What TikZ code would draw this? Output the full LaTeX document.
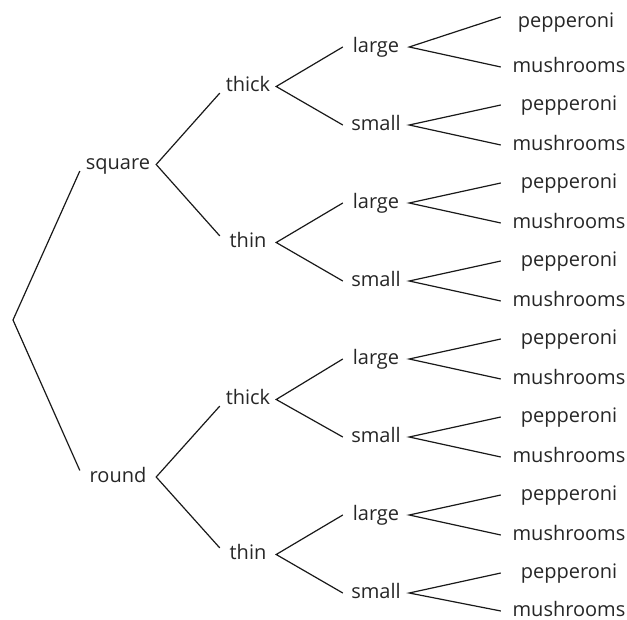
\documentclass[tikz,border=0pt]{standalone}
\usepackage{fontspec}
\setmainfont{Open Sans}

\begin{document}
\begin{tikzpicture}[x=1pt, y=-1pt,
  lbl/.style={inner xsep=0pt, inner ysep=1pt, text height=10.7pt, text depth=0pt, text=black!85, font=\fontsize{20}{24}\selectfont},
  shapebox/.style={lbl, minimum width=76pt},
  crustbox/.style={lbl, minimum width=56pt},
  sizebox/.style={lbl, minimum width=66pt},
  toppingbox/.style={lbl, minimum width=136pt},
  branch/.style={draw=black!90, line width=1.2pt}]
\useasboundingbox (0, 0) rectangle (627, 620);

\coordinate (root) at (13, 320);
\node[shapebox] (s) at (118, 164.5) {square};
\node[shapebox] (r) at (118, 477) {round};

\node[crustbox] (s1) at (248, 86.5) {thick};
\node[crustbox] (s2) at (248, 242.5) {thin};
\node[crustbox] (r1) at (248, 399.5) {thick};
\node[crustbox] (r2) at (248, 554.5) {thin};

\node[sizebox] (s1l) at (376, 47) {large};
\node[sizebox] (s1s) at (376, 125) {small};
\node[sizebox] (s2l) at (376, 203) {large};
\node[sizebox] (s2s) at (376, 281) {small};
\node[sizebox] (r1l) at (376, 359) {large};
\node[sizebox] (r1s) at (376, 437) {small};
\node[sizebox] (r2l) at (376, 515) {large};
\node[sizebox] (r2s) at (376, 593) {small};

\node[toppingbox] (s1l-p) at (566, 22) {pepperoni};
\node[toppingbox] (s1l-m) at (569, 67) {mushrooms};
\node[toppingbox] (s1s-p) at (569, 105) {pepperoni};
\node[toppingbox] (s1s-m) at (569, 145) {mushrooms};
\node[toppingbox] (s2l-p) at (569, 183) {pepperoni};
\node[toppingbox] (s2l-m) at (569, 223) {mushrooms};
\node[toppingbox] (s2s-p) at (569, 261) {pepperoni};
\node[toppingbox] (s2s-m) at (569, 301) {mushrooms};
\node[toppingbox] (r1l-p) at (569, 339) {pepperoni};
\node[toppingbox] (r1l-m) at (569, 379) {mushrooms};
\node[toppingbox] (r1s-p) at (569, 417) {pepperoni};
\node[toppingbox] (r1s-m) at (569, 457) {mushrooms};
\node[toppingbox] (r2l-p) at (569, 495) {pepperoni};
\node[toppingbox] (r2l-m) at (569, 535) {mushrooms};
\node[toppingbox] (r2s-p) at (569, 573) {pepperoni};
\node[toppingbox] (r2s-m) at (569, 611) {mushrooms};

\draw[branch] (s.south west) -- (root) -- (r.north west);

\draw[branch] (s1.south west) -- (s.east) -- (s2.north west);
\draw[branch] (r1.south west) -- (r.east) -- (r2.north west);

\draw[branch] (s1l.west) -- (s1.east) -- (s1s.west);
\draw[branch] (s2l.west) -- (s2.east) -- (s2s.west);
\draw[branch] (r1l.west) -- (r1.east) -- (r1s.west);
\draw[branch] (r2l.west) -- (r2.east) -- (r2s.west);

\draw[branch] ([xshift=3pt, yshift=5pt]s1l-p.west) -- (s1l.east) -- (s1l-m.west);
\draw[branch] (s1s-p.west) -- (s1s.east) -- (s1s-m.west);
\draw[branch] (s2l-p.west) -- (s2l.east) -- (s2l-m.west);
\draw[branch] (s2s-p.west) -- (s2s.east) -- (s2s-m.west);
\draw[branch] (r1l-p.west) -- (r1l.east) -- (r1l-m.west);
\draw[branch] (r1s-p.west) -- (r1s.east) -- (r1s-m.west);
\draw[branch] (r2l-p.west) -- (r2l.east) -- (r2l-m.west);
\draw[branch] (r2s-p.west) -- (r2s.east) -- (r2s-m.west);

\end{tikzpicture}
\end{document}
